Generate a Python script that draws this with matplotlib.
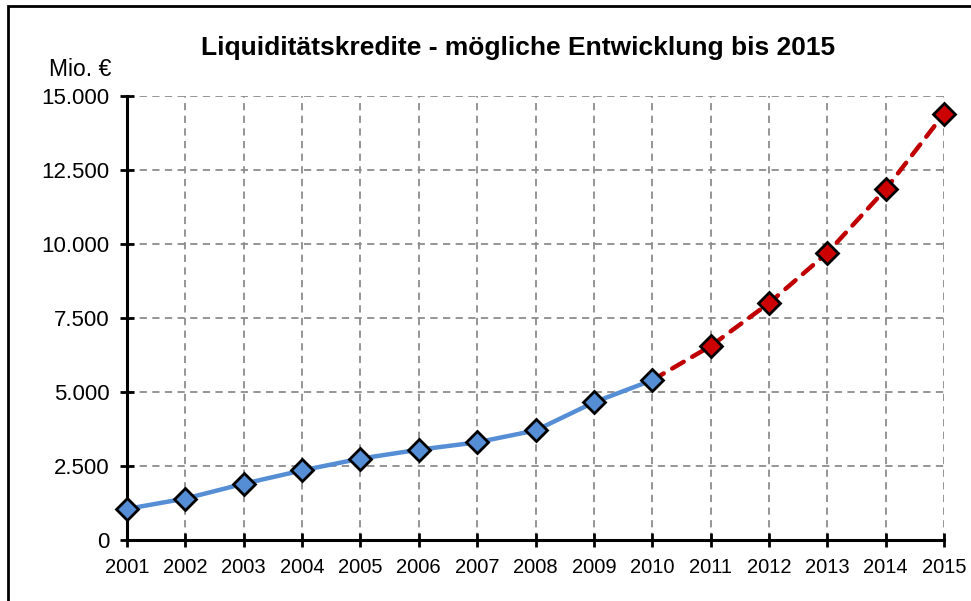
import matplotlib
matplotlib.use("Agg")
import matplotlib.pyplot as plt
from matplotlib.patches import Rectangle
from matplotlib.ticker import FuncFormatter

plt.rcParams['font.family'] = ['Liberation Sans', 'DejaVu Sans']

years_hist = [2001, 2002, 2003, 2004, 2005, 2006, 2007, 2008, 2009, 2010]
values_hist = [1050, 1400, 1900, 2350, 2750, 3050, 3300, 3700, 4650, 5400]
years_proj = [2010, 2011, 2012, 2013, 2014, 2015]
values_proj = [5400, 6550, 8000, 9700, 11850, 14400]
yticks = [0, 2500, 5000, 7500, 10000, 12500, 15000]
title = "Liquiditätskredite - mögliche Entwicklung bis 2015"
ylabel = "Mio. €"

fig = plt.figure(figsize=(9.71, 6.01), dpi=100)
ax = fig.add_axes([127/971, 61/601, (944-127)/971, (540-96)/601])

# Outer frame
fig.patches.append(Rectangle((8/971, -0.05), (971-8)/971 + 0.05, (601-6)/601 + 0.05,
                             transform=fig.transFigure, fill=False, edgecolor='black',
                             linewidth=2, clip_on=False))

ax.plot(years_hist, values_hist, color='#558ED5', linewidth=3.2, zorder=3,
        solid_capstyle='round')
ax.plot(years_proj, values_proj, color='#C00000', linewidth=3.2, zorder=3,
        linestyle=(0, (3, 2.2)), dash_capstyle='round')
ax.plot(years_hist, values_hist, linestyle='none', marker='D', markersize=11,
        markerfacecolor='#558ED5', markeredgecolor='black', markeredgewidth=2,
        zorder=4, clip_on=False)
ax.plot(years_proj[1:], values_proj[1:], linestyle='none', marker='D', markersize=11,
        markerfacecolor='#CC0000', markeredgecolor='black', markeredgewidth=2,
        zorder=4, clip_on=False)

ax.set_xlim(2001, 2015)
ax.set_ylim(0, 15000)
ax.set_xticks(list(range(2001, 2016)))
ax.set_yticks(yticks)
ax.yaxis.set_major_formatter(FuncFormatter(lambda v, p: f"{int(v):,}".replace(",", ".")))

ax.grid(True, color='#8c8c8c', linestyle=(0, (4, 3)), linewidth=1.3, zorder=0)
for s in ['top', 'right']:
    ax.spines[s].set_visible(False)
for s in ['left', 'bottom']:
    ax.spines[s].set_linewidth(2.2)
ax.tick_params(axis='both', direction='inout', length=9.5, width=2)
ax.tick_params(axis='y', labelsize=16, pad=8)
ax.tick_params(axis='x', labelsize=14.5, pad=8.5)

fig.text(518/971, 1 - 48/601, title, ha='center', va='center', fontsize=19,
         fontweight='bold')
fig.text(80/971, 1 - 70/601, ylabel, ha='center', va='center', fontsize=16.5)

fig.savefig("out.png", dpi=100)
